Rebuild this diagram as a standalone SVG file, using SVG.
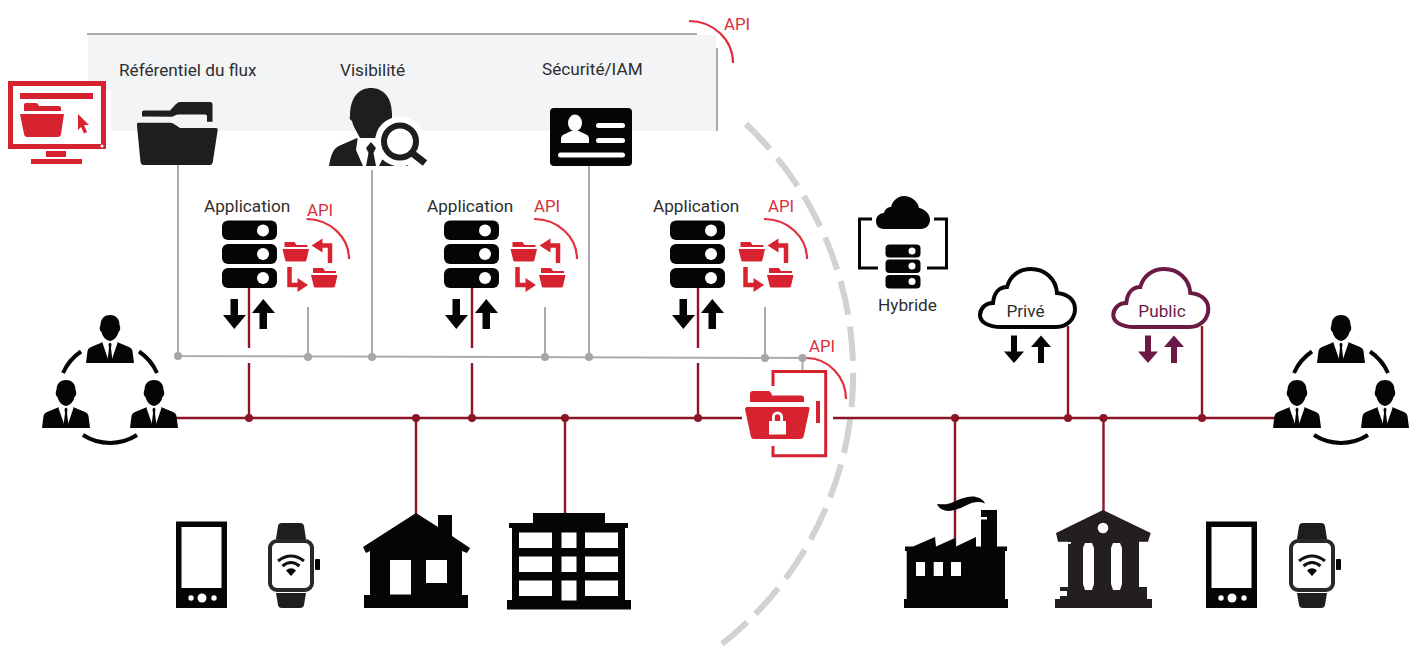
<svg xmlns="http://www.w3.org/2000/svg" xmlns:xlink="http://www.w3.org/1999/xlink" width="1421" height="656" viewBox="0 0 1421 656">
<style>
text{font-family:Roboto,"Liberation Sans",sans-serif;font-size:17.2px;fill:#2e2e2e}
.api{fill:#d9303c;font-size:16.800px}
.pub{fill:#6a1a45}
.mid{text-anchor:middle}
.k{fill:#050505}
.d{fill:#1f1e1c}
.r{fill:#d6232f}
.w{fill:#fff}
.arc{fill:none;stroke:#e0303c;stroke-width:2.2}
.g{fill:none;stroke:#aaa;stroke-width:2}
.gd{fill:#a6a6a6}
.m{fill:none;stroke:#8c1525;stroke-width:2.4}
.md{fill:#8c1525}
.rs{fill:none;stroke:#d6232f}
</style>
<defs>
<g id="person">
<path class="k" d="M14.5,10 C14.5,3 19,0 24,0 C29,0 33.5,3 33.5,10 C35,13 34,16 32.5,17 C31.5,21 29,25 24,26 C19,25 16.500,21 15.500,17 C14,16 13,13 14.500,10Z"/>
<path class="k" d="M0,48 L1.500,36 Q2,33 5,32 L17,27 L24,33 L31,27 L43,32 Q46,33 46.500,36 L48,48Z"/>
<path class="w" d="M18,24 L22.500,27 L24,29 L25.500,27 L30,24 L31.500,28 L26,44 L22,44 L16.500,28Z"/>
<path class="k" d="M22.500,29 L24,27.500 L25.500,29 L25,33 L26.500,46 L24,48 L21.500,46 L23,33Z"/>
</g>
<g id="people">
<use href="#person" x="86" y="315"/>
<use href="#person" x="42" y="380"/>
<use href="#person" x="130" y="380"/>
<path d="M63,373 A50,50 0 0 1 81,351.500 M139,351.500 A50,50 0 0 1 157,373 M83,435 A50,50 0 0 0 137,435" fill="none" stroke="#050505" stroke-width="4"/>
</g>
<g id="server">
<rect class="k" x="0" y="0" width="55" height="19.500" rx="6"/>
<rect class="k" x="0" y="23.500" width="55" height="20" rx="6"/>
<rect class="k" x="0" y="47.500" width="55" height="20" rx="6"/>
<circle class="w" cx="41" cy="10" r="6"/><circle class="w" cx="41" cy="33.500" r="6"/><circle class="w" cx="41" cy="57.500" r="6"/>
</g>
<path id="down" d="M7.500,0 H15 V16 H23 L11.300,30 L0,16 H7.500Z"/>
<path id="up" d="M7.500,30 H15 V14 H23 L11.300,0 L0,14 H7.500Z"/>
<path id="sdown" d="M7,0 H13 V16 H20 L10,27.500 L0,16 H7Z"/>
<path id="sup" d="M7,27.500 H13 V11.500 H20 L10,0 L0,11.500 H7Z"/>
<g id="minifolder">
<path class="r" d="M2,0 H12 L14,3 H25 V5 H2Z"/>
<path class="r" d="M0,7 H26.500 L24,18 Q23.800,19.500 22,19.500 H4.500 Q3,19.500 2.700,18Z"/>
</g>
<g id="swap">
<use href="#minifolder" x="0" y="0"/>
<use href="#minifolder" x="28.500" y="26"/>
<path class="rs" stroke-width="4.500" d="M47.500,21 V3.500 H36 M7,25 V43 H16"/>
<path class="r" d="M29,3.500 L40,-3.500 V10.500Z M25.500,43 L15,36 V50Z"/>
</g>
<g id="phone">
<rect class="k" x="0" y="0" width="51" height="86.500"/>
<rect class="w" x="5.500" y="5.500" width="40" height="61"/>
<circle class="w" cx="15" cy="76.500" r="2.700"/><circle class="w" cx="26" cy="76.500" r="4.500"/><circle class="w" cx="38" cy="76.500" r="2.700"/>
</g>
<g id="watch">
<path class="d" d="M8,16 L10,3 Q10.500,0 14,0 H32 Q35.500,0 36,3 L38,16Z"/>
<path class="d" d="M8,70 L10,82 Q10.500,85 14,85 H32 Q35.500,85 36,82 L38,70Z"/>
<rect x="2" y="18" width="42" height="49" rx="7" fill="#fff" stroke="#2a2927" stroke-width="4"/>
<rect class="k" x="47" y="36" width="5" height="11" rx="1"/>
<path d="M10,38 Q23,28 36,38 M14.500,43 Q23,36 31.500,43" fill="none" stroke="#111" stroke-width="3"/>
<path class="k" d="M18,47.500 Q23,43 28,47.500 L23,53Z"/>
</g>
</defs>

<g id="panel">
<rect x="88" y="35" width="628" height="96" fill="#f3f4f6"/>
<rect class="w" x="0" y="91" width="111" height="41"/>
<path d="M87,34 H697 M717,48 V131" class="g"/>
<text x="119" y="75.500">Référentiel du flux</text>
<text x="340" y="75.500">Visibilité</text>
<text x="542" y="75">Sécurité/IAM</text>
</g>

<g id="dashed-boundary">
<path d="M746,124 A344.200,344.200 0 0 1 722,644" fill="none" stroke="#d2d2d0" stroke-width="6" stroke-dasharray="34.400 12"/>
</g>

<g id="connectors">
<path class="g" d="M178,165 V356 L802.500,358 M372,166 V357 M589,166 V357 M308,307 V357 M545,307 V357 M765,307 V358 M802.500,358 V371"/>
<g class="gd">
<circle cx="178" cy="356" r="4"/><circle cx="308" cy="357" r="4"/><circle cx="372" cy="357" r="4"/><circle cx="545" cy="357" r="4"/><circle cx="589" cy="357" r="4"/><circle cx="765" cy="358" r="4"/><circle cx="802.500" cy="358" r="4"/>
</g>
<path class="m" d="M176,418 H742 M833,418 H1275 M249,287 V348 M249,363 V418 M472,287 V348 M472,363 V418 M698,287 V348 M698,363 V418 M416,418 V515 M565,418 V515 M955,418 V546 M1103.500,418 V512 M1068,326 V418 M1202,326 V418"/>
<g class="md">
<circle cx="249" cy="418" r="4"/><circle cx="416" cy="418" r="4"/><circle cx="472" cy="418" r="4"/><circle cx="565" cy="418" r="4"/><circle cx="698" cy="418" r="4"/><circle cx="955" cy="418" r="4"/><circle cx="1068" cy="418" r="4"/><circle cx="1103.500" cy="418" r="4"/><circle cx="1202" cy="418" r="4"/>
</g>
</g>

<g id="api-top">
<path class="arc" d="M689,21 A44,42 0 0 1 733,63"/>
<text class="api" x="724" y="30">API</text>
</g>

<g id="monitor">
<rect x="10.500" y="83.500" width="93" height="63" fill="#fff" stroke="#d6232f" stroke-width="5"/>
<circle class="w" cx="102" cy="146" r="1.500"/>
<rect class="r" x="20" y="93" width="73" height="6"/>
<rect class="r" x="46" y="151" width="20" height="6"/>
<rect class="r" x="31" y="159" width="51" height="5"/>
<path class="r" d="M24,105 Q24,103 26,103 H36 Q38,103 39,106 H59 Q61,106 61,108 V111 H24Z"/>
<path class="r" d="M20,114 H64 L61,134 Q60.500,137 58,137 H27 Q24.500,137 24,134Z"/>
<path class="r" d="M78,114 L89,125 H84 L87,132 L84,133.500 L81,127 L78,130Z"/>
</g>

<g id="node-folder">
<path class="d" d="M142,116.500 V112 Q142,110.500 144,110.500 H170 L176,104 Q178,102 180,102 H210 Q212.500,102 212.500,104 V121.700 H207 V116 Q207,114.500 205,114.500 H178 Q176.500,114.500 175,115.500 L172,116.700Z"/>
<path class="d" d="M137,124 Q137,122.700 138.500,122.700 H170 Q172,122.700 174,124 L180,128 H216 Q218,128 217.700,130 L212.800,162 Q212.300,165 210,165 H143.500 Q141,165 140.500,162 L137,126Z"/>
</g>

<g id="node-visibility">
<path class="d" d="M350,116 C350,96 360,88 371,88 C382,88 392,96 392,114 L392,118 L378,138 L360,138 C356,130 353,126 352,121 C350,120 349,118 350,116Z"/>
<path class="d" d="M329,166 C331,152 335,147 341,145 L357,138 L371,151 L385,138 L400,150 L408,166Z"/>
<path class="w" d="M358,136 L364,142 L371,146 L378,142 L384,136 L387,150 L379,166 H363 L356,150Z"/>
<path class="d" d="M366,148 L371,142 L376,148 L373.500,153 L376,166 H366 L368.500,153Z"/>
<circle class="w" cx="400" cy="141.500" r="25"/>
<path class="w" d="M410,158 L416,152 L430,163 L420,170 L408,166Z"/>
<rect class="w" x="329" y="166" width="100" height="4"/>
<circle cx="400" cy="141.500" r="16" fill="none" stroke="#1f1e1c" stroke-width="6"/>
<path d="M412,153 L425,163" stroke="#1f1e1c" stroke-width="7" fill="none"/>
</g>

<g id="node-iam">
<rect class="k" x="550" y="108" width="82" height="58" rx="4"/>
<ellipse class="w" cx="575" cy="123" rx="7" ry="8.500"/>
<path class="w" d="M561,143 V139 Q561,135 565,134 L571,131 H579 L585,134 Q589,135 589,139 V143Z"/>
<rect class="w" x="596" y="123" width="29" height="5" rx="2.500"/>
<rect class="w" x="596" y="138" width="29" height="5" rx="2.500"/>
<rect class="w" x="558" y="152.500" width="67" height="5" rx="2.500"/>
</g>

<g id="app1">
<text x="204" y="212">Application</text>
<use href="#server" x="222" y="220.500"/>
<use class="k" href="#down" x="223" y="299"/><use class="k" href="#up" x="252" y="299"/>
<use href="#swap" x="282.500" y="242"/>
<path class="arc" d="M306.500,219 A43,40 0 0 1 349,259"/>
<text class="api" x="307" y="216">API</text>
</g>
<g id="app2">
<text x="427" y="212">Application</text>
<use href="#server" x="444" y="220.500"/>
<use class="k" href="#down" x="445" y="299"/><use class="k" href="#up" x="475" y="299"/>
<use href="#swap" x="510.500" y="242"/>
<path class="arc" d="M534,219 A43,40 0 0 1 577,259"/>
<text class="api" x="534" y="212">API</text>
</g>
<g id="app3">
<text x="653" y="212">Application</text>
<use href="#server" x="670" y="220.500"/>
<use class="k" href="#down" x="672" y="299"/><use class="k" href="#up" x="701" y="299"/>
<use href="#swap" x="738.500" y="242"/>
<path class="arc" d="M764,219 A43,40 0 0 1 807,259"/>
<text class="api" x="768" y="212">API</text>
</g>

<g id="vault">
<path class="rs" stroke-width="3" d="M773,386 V371.500 H825.700 V455.700 H773 V446"/>
<path class="r" d="M750,394 Q750,391 753,391 H768 Q771,391 772,395.500 H801 Q804,395.500 804,398 V402 H750Z"/>
<path class="r" d="M745,409 Q745,407 747,407 H807.500 Q810,407 809.500,409 L804,435 Q803.500,439 800,439 H754 Q751,439 750.500,435Z"/>
<path class="w" d="M769,421 H772 V417 A5.500,5.500 0 0 1 783,417 V421 H786 V434.500 H769Z"/>
<path class="r" d="M774.800,421 V417 A2.700,2.700 0 0 1 780.200,417 V421Z"/>
<rect class="r" x="816" y="401" width="4" height="22"/>
<path class="arc" d="M806.500,358 A40,41 0 0 1 846,399"/>
<text class="api" x="809" y="352">API</text>
</g>

<g id="users-left"><use href="#people"/></g>
<g id="users-right"><use href="#people" x="1231"/></g>

<g id="hybrid">
<path d="M872,219 H859.500 V268 H878 M934,219 H946.500 V268 H927" fill="none" stroke="#050505" stroke-width="3"/>
<path class="k" d="M884,229 C878,229 876,225 876,221 C876,216 880,213 884,213 C885,209 888,207 891,207 C893,200 898,196 904,196 C911,196 918,201 919,208 C925,209 930,214 930,220 C930,225 926,229 921,229Z"/>
<g>
<rect class="k" x="885.500" y="244.500" width="35" height="13" rx="4"/><rect class="k" x="885.500" y="259.500" width="35" height="13.500" rx="4"/><rect class="k" x="885.500" y="275" width="35" height="13.500" rx="4"/>
<circle class="w" cx="912" cy="251" r="3.500"/><circle class="w" cx="912" cy="266" r="3.500"/><circle class="w" cx="912" cy="281.500" r="3.500"/>
</g>
<text class="mid" x="907.500" y="311">Hybride</text>
</g>

<g id="cloud-private">
<path d="M1001,327 H1056 C1068,327 1075,318 1075,309 C1075,300 1068,294 1057,293 C1056,279 1045,269 1031,269 C1019,269 1010,276 1007,287 C999,287 994,293 993,303 C985,303 980,309 980,315 C980,322 988,327 1001,327Z" fill="#fff" stroke="#050505" stroke-width="4"/>
<text class="mid" x="1025.500" y="317">Privé</text>
<use class="k" href="#sdown" x="1004" y="335.500"/><use class="k" href="#sup" x="1031" y="335.500"/>
</g>
<g id="cloud-public">
<path d="M1134.300,327 H1189.300 C1201.300,327 1208.300,318 1208.300,309 C1208.300,300 1201.300,294 1190.300,293 C1189.300,279 1178.300,269 1164.300,269 C1152.300,269 1143.300,276 1140.300,287 C1132.300,287 1127.300,293 1126.300,303 C1118.300,303 1113.300,309 1113.300,315 C1113.300,322 1121.300,327 1134.300,327Z" fill="#fff" stroke="#6a1a45" stroke-width="4"/>
<text class="mid pub" x="1162" y="317">Public</text>
<use class="pub" href="#sdown" x="1138" y="335.500"/><use class="pub" href="#sup" x="1164" y="335.500"/>
</g>

<g id="phone-left"><use href="#phone" x="176" y="521.500"/></g>
<g id="watch-left"><use href="#watch" x="268" y="523"/></g>

<g id="house">
<path class="k" d="M416,513 L438,527 V515 H452 V536 L470,548 L467,553 L462,551 V595 H468 V608 H364 V595 H370 V551 L366,553 L363,547Z"/>
<rect class="w" x="390" y="560" width="21" height="34.500"/>
<rect class="w" x="426" y="560" width="21" height="23"/>
</g>

<g id="office">
<path class="k" d="M533,513 H605 V523 H628 V528 H625 V600 H631 V609.500 H507 V600 H512 V528 H509 V523 H533Z"/>
<g class="w">
<rect x="519" y="532.500" width="33" height="15.500"/><rect x="561.500" y="532.500" width="15" height="15.500"/><rect x="585" y="532.500" width="33" height="15.500"/>
<rect x="519" y="556.500" width="33" height="15.500"/><rect x="561.500" y="556.500" width="15" height="15.500"/><rect x="585" y="556.500" width="33" height="15.500"/>
<rect x="519" y="580.500" width="33" height="15.500"/><rect x="561.500" y="580.500" width="15" height="20"/><rect x="585" y="580.500" width="33" height="15.500"/>
</g>
</g>

<g id="factory">
<path class="k" d="M905,546.500 H913 L935,537 L936,546.500 L955,538 L956,546.500 L976,537 V546.500 H981 V510 H997 V546.500 H1007 V551 H1005 V599 H1008 V608 H904 V599 H906.700 V551 H905Z"/>
<rect class="w" x="981" y="517" width="6" height="2.500"/>
<path class="k" d="M937,504 C941,504 946,505 951,503 C958,500 968,495 976,497 C981,498 984,501 985,503.500 C979,501 973,502 967,505 C959,509 951,512 945,510.500 C941,509.500 938,507 937,504Z"/>
<rect class="w" x="916" y="562" width="9" height="14"/><rect class="w" x="933.700" y="562" width="9.300" height="14"/><rect class="w" x="951" y="562" width="10" height="14"/>
</g>

<g id="bank">
<path fill="#231f20" d="M1103,510 L1150.700,533 L1148,541.700 H1139 V587 H1147 V599 H1152 V608 H1055 V599 H1060 V587 H1068 V541.700 H1058 L1056,533Z"/>
<circle class="w" cx="1103" cy="528" r="5.300"/>
<path class="w" d="M1085,543 H1092 L1094,548 V584 L1092,590 H1085 L1083,584 V548Z"/>
<path class="w" d="M1113,543 H1120 L1122,548 V584 L1120,590 H1113 L1111,584 V548Z"/>
<rect class="w" x="1060" y="591" width="7" height="5"/>
<rect class="w" x="1058" y="542" width="13" height="1.800"/>
</g>

<g id="phone-right"><use href="#phone" x="1206" y="521.500"/></g>
<g id="watch-right"><use href="#watch" x="1289" y="523"/></g>
</svg>
